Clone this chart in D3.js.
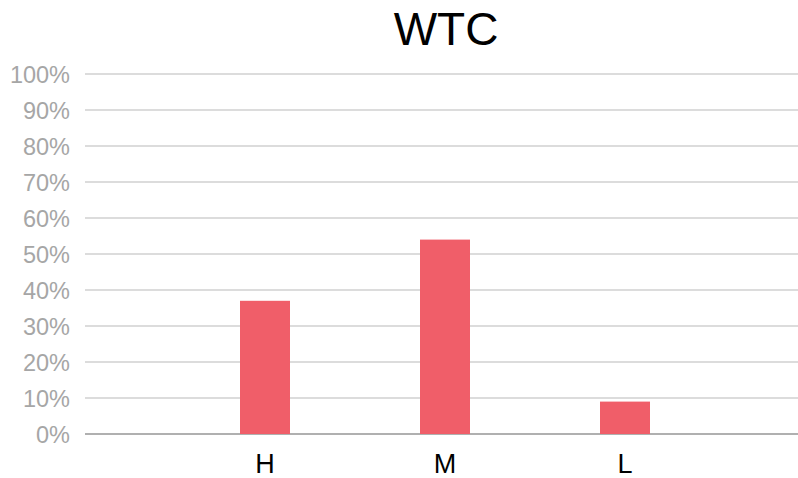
<!DOCTYPE html>
<html><head><meta charset="utf-8">
<script src="https://cdn.jsdelivr.net/npm/d3@7"></script>
<style>body{margin:0;background:#fff}svg{display:block}</style>
</head><body>
<script>
const title = "WTC";
const categories = ["H", "M", "L"];
const values = [37, 54, 9];
const yTicks = [0,10,20,30,40,50,60,70,80,90,100];

const W = 798, H = 478;
const svg = d3.select("body").append("svg").attr("width", W).attr("height", H);
const x = d3.scalePoint().domain(categories).range([85, 805]).padding(1);
const y = d3.scaleLinear().domain([0, 100]).range([434, 74]);
const barW = 50;

svg.append("text").attr("x", 446).attr("y", 45).attr("text-anchor", "middle")
  .attr("font-family", "Liberation Sans, Arial, sans-serif").attr("font-size", 46)
  .attr("fill", "#000").text(title);

const g = svg.append("g");
g.selectAll("line.grid").data(yTicks).join("line")
  .attr("x1", 85).attr("x2", 798)
  .attr("y1", d => y(d)).attr("y2", d => y(d))
  .attr("stroke", d => d === 0 ? "#b0b0b0" : "#d0d0d0").attr("stroke-width", d => d === 0 ? 2 : 1.5);

g.selectAll("text.ytick").data(yTicks).join("text")
  .attr("x", 70).attr("y", d => y(d) + 8.5).attr("text-anchor", "end")
  .attr("font-family", "Liberation Sans, Arial, sans-serif").attr("font-size", 23.5)
  .attr("fill", "#a6a6a6").text(d => d + "%");

g.selectAll("rect.bar").data(values).join("rect")
  .attr("x", (d, i) => x(categories[i]) - barW / 2)
  .attr("width", barW)
  .attr("y", d => y(d)).attr("height", d => y(0) - y(d))
  .attr("fill", "#f05e69");

g.selectAll("text.xl").data(categories).join("text")
  .attr("x", d => x(d)).attr("y", 473).attr("text-anchor", "middle")
  .attr("font-family", "Liberation Sans, Arial, sans-serif").attr("font-size", 27)
  .attr("fill", "#000").text(d => d);
</script>
</body></html>
